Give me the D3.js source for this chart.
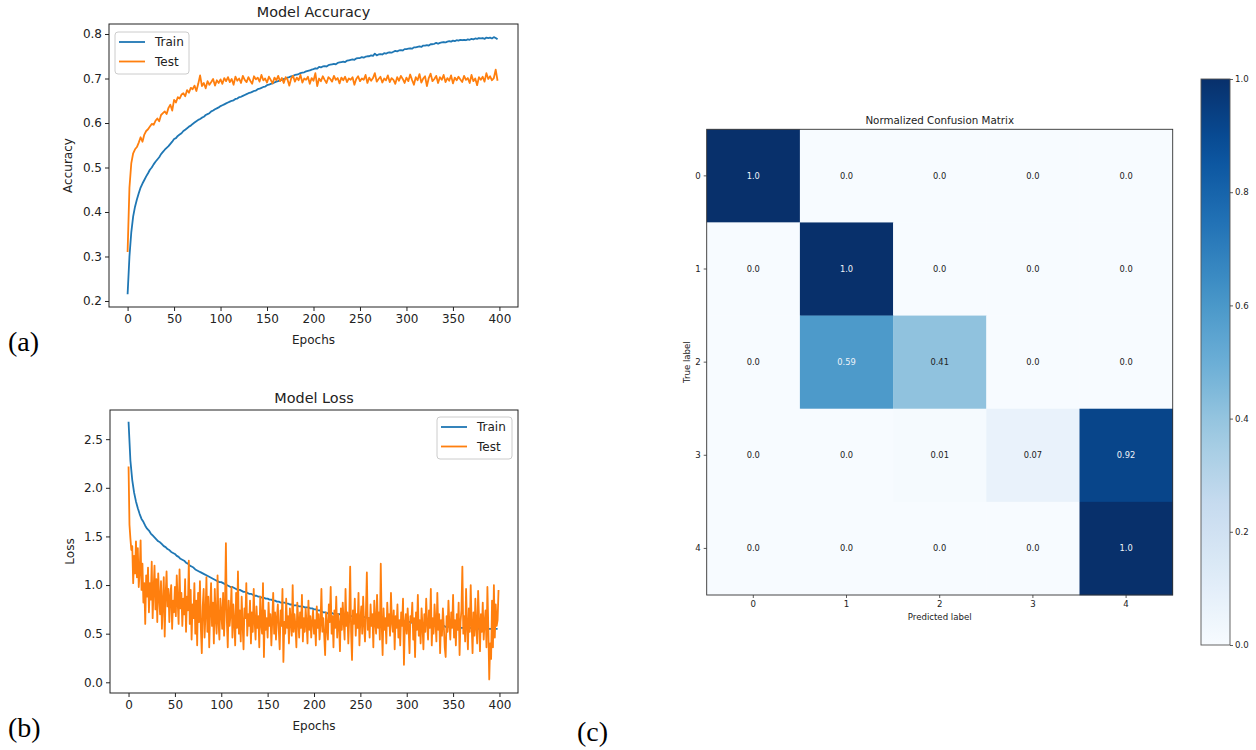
<!DOCTYPE html>
<html><head><meta charset="utf-8">
<script src="https://cdn.jsdelivr.net/npm/d3@7"></script>
<style>
html,body{margin:0;padding:0;background:#fff;}
svg text{font-family:"DejaVu Sans",sans-serif;fill:#222;}
</style></head>
<body><svg id="c" width="1256" height="750"></svg>
<script>
// ---------------- DATA ----------------
const seriesNames = ["Train", "Test"];
const xTicks = [0, 50, 100, 150, 200, 250, 300, 350, 400];
const accTicks = [0.2, 0.3, 0.4, 0.5, 0.6, 0.7, 0.8];
const lossTicks = [0.0, 0.5, 1.0, 1.5, 2.0, 2.5];
const trainAccStep = 2, testAccStep = 2, trainLossStep = 2, testLossStep = 1;

const trainAcc = [
0.215,0.300,0.355,0.390,0.412,0.428,0.442,0.455,0.464,0.472,
0.480,0.487,0.495,0.500,0.507,0.513,0.518,0.523,0.530,0.535,
0.540,0.544,0.548,0.553,0.558,0.564,0.566,0.571,0.574,0.577,
0.582,0.585,0.588,0.592,0.594,0.598,0.601,0.604,0.607,0.609,
0.612,0.614,0.618,0.620,0.622,0.626,0.628,0.631,0.633,0.635,0.638,
0.640,0.642,0.644,0.646,0.648,0.650,0.651,0.654,0.655,0.658,
0.659,0.661,0.663,0.665,0.667,0.668,0.670,0.672,0.673,0.676,
0.677,0.679,0.681,0.682,0.685,0.686,0.688,0.689,0.691,0.693,
0.694,0.696,0.697,0.699,0.700,0.702,0.703,0.705,0.706,0.708,
0.709,0.710,0.712,0.713,0.714,0.716,0.717,0.718,0.720,0.721,
0.723,0.722,0.726,0.725,0.727,0.728,0.727,0.730,0.731,0.732,
0.733,0.732,0.735,0.736,0.737,0.738,0.737,0.740,0.741,0.742,
0.743,0.742,0.745,0.746,0.746,0.748,0.747,0.749,0.750,0.750,
0.752,0.751,0.756,0.752,0.754,0.755,0.754,0.757,0.756,0.758,
0.759,0.758,0.760,0.762,0.761,0.763,0.764,0.763,0.766,0.766,
0.767,0.768,0.767,0.770,0.770,0.771,0.772,0.771,0.774,0.774,
0.775,0.774,0.777,0.777,0.778,0.780,0.778,0.780,0.781,0.782,
0.781,0.783,0.784,0.783,0.785,0.784,0.786,0.785,0.787,0.786,
0.787,0.786,0.788,0.787,0.789,0.788,0.790,0.789,0.791,0.790,
0.791,0.789,0.792,0.791,0.792,0.790,0.793,0.791,0.788];

const testAcc = [
0.310,0.455,0.510,0.532,0.541,0.546,0.556,0.568,0.558,0.574,
0.582,0.586,0.592,0.598,0.596,0.605,0.610,0.604,0.618,0.622,
0.626,0.620,0.634,0.641,0.628,0.652,0.646,0.658,0.655,0.664,
0.667,0.660,0.674,0.668,0.679,0.676,0.684,0.672,0.688,0.707,
0.683,0.690,0.678,0.694,0.686,0.692,0.699,0.684,0.696,0.690,0.698,
0.688,0.701,0.694,0.703,0.692,0.699,0.686,0.704,0.695,0.700,
0.690,0.706,0.697,0.692,0.703,0.695,0.688,0.705,0.698,0.702,
0.693,0.708,0.696,0.700,0.691,0.704,0.697,0.689,0.702,0.696,
0.706,0.694,0.701,0.690,0.703,0.698,0.684,0.700,0.706,0.693,
0.702,0.696,0.708,0.691,0.700,0.697,0.704,0.688,0.701,0.695,
0.712,0.683,0.700,0.694,0.705,0.697,0.690,0.703,0.699,0.693,
0.706,0.697,0.701,0.689,0.702,0.696,0.704,0.692,0.700,0.697,
0.703,0.686,0.699,0.705,0.694,0.700,0.697,0.708,0.690,0.702,
0.695,0.701,0.712,0.693,0.699,0.704,0.691,0.700,0.696,0.707,
0.692,0.701,0.697,0.688,0.703,0.695,0.706,0.699,0.690,0.702,
0.694,0.709,0.697,0.686,0.703,0.696,0.710,0.691,0.700,0.705,
0.683,0.701,0.711,0.694,0.699,0.706,0.690,0.703,0.697,0.708,
0.692,0.701,0.695,0.707,0.689,0.702,0.696,0.704,0.698,0.692,
0.706,0.697,0.701,0.690,0.708,0.694,0.700,0.685,0.703,0.697,
0.704,0.693,0.712,0.699,0.705,0.696,0.701,0.720,0.695];

const trainLoss = [
2.68,2.28,2.08,1.95,1.86,1.79,1.73,1.68,1.65,1.61,
1.58,1.56,1.53,1.51,1.49,1.47,1.45,1.44,1.42,1.40,
1.39,1.37,1.36,1.34,1.33,1.32,1.30,1.29,1.27,1.26,
1.25,1.23,1.22,1.20,1.19,1.18,1.16,1.15,1.14,1.13,
1.12,1.11,1.10,1.09,1.08,1.07,1.06,1.05,1.04,1.03,1.03,
1.02,1.01,1.00,0.99,0.98,0.98,0.97,0.96,0.95,0.95,
0.94,0.93,0.93,0.92,0.91,0.91,0.90,0.89,0.89,0.88,
0.88,0.87,0.87,0.86,0.86,0.85,0.85,0.84,0.84,0.83,
0.83,0.82,0.82,0.82,0.81,0.81,0.80,0.80,0.79,0.79,
0.79,0.78,0.78,0.78,0.77,0.77,0.77,0.76,0.76,0.75,
0.75,0.74,0.74,0.73,0.72,0.72,0.71,0.71,0.71,0.71,
0.70,0.70,0.70,0.70,0.69,0.69,0.69,0.69,0.68,0.68,
0.68,0.68,0.68,0.67,0.67,0.67,0.67,0.67,0.66,0.66,
0.66,0.66,0.66,0.66,0.65,0.65,0.65,0.65,0.65,0.64,
0.64,0.64,0.64,0.64,0.63,0.63,0.63,0.63,0.63,0.62,
0.62,0.62,0.61,0.61,0.61,0.60,0.60,0.60,0.60,0.59,
0.59,0.59,0.59,0.59,0.58,0.58,0.58,0.58,0.58,0.58,
0.57,0.57,0.57,0.57,0.57,0.57,0.57,0.56,0.56,0.56,
0.56,0.56,0.56,0.56,0.56,0.56,0.55,0.55,0.55,0.55,
0.55,0.55,0.55,0.55,0.55,0.55,0.55,0.55,0.55];

const testLoss = [
2.22,1.62,1.48,1.36,1.40,1.02,1.30,1.12,1.45,1.08,
1.38,0.98,1.14,1.46,0.95,1.22,0.82,1.02,0.60,1.10,
0.88,1.18,0.72,1.02,0.85,1.24,0.66,0.95,1.20,0.75,
1.06,0.62,1.12,0.88,0.70,1.04,0.55,0.82,1.08,0.47,
0.90,1.14,0.78,0.96,0.62,0.88,1.00,0.55,0.84,0.72,
0.98,0.68,1.10,0.82,0.60,1.16,0.76,0.92,0.58,0.86,
0.70,1.06,0.52,0.88,0.74,1.25,0.60,0.95,0.44,0.80,
0.66,1.02,0.50,0.84,0.38,0.92,0.62,1.04,0.55,0.30,
0.78,0.96,0.46,0.70,1.08,0.52,0.88,0.36,0.74,1.02,
0.58,0.82,0.40,0.96,0.66,0.50,1.10,0.62,0.44,0.86,
0.72,0.55,0.92,0.48,0.78,1.43,0.64,0.36,0.84,0.58,
0.70,0.98,0.46,0.80,0.62,0.38,0.92,0.56,1.14,0.50,
0.74,0.42,0.88,0.60,0.34,0.76,0.66,1.02,0.48,0.70,
0.58,0.84,0.40,0.72,0.52,0.96,0.62,0.44,0.78,0.56,
0.68,0.36,0.88,0.60,0.50,1.02,0.26,0.74,0.54,0.66,
0.46,0.82,0.58,0.70,0.38,0.64,0.92,0.50,0.72,0.44,
0.66,0.80,0.54,0.34,0.74,0.58,0.96,0.21,0.62,0.50,
0.86,0.56,0.68,0.40,0.76,0.62,0.48,1.00,0.52,0.70,
0.58,0.36,0.82,0.64,0.46,0.72,0.56,0.90,0.42,0.66,
0.52,0.76,0.60,0.40,0.84,0.54,0.68,0.46,0.62,0.74,
0.50,0.64,0.38,0.78,0.56,0.70,0.44,0.60,0.96,0.52,
0.66,0.48,0.28,0.72,0.58,0.44,0.80,0.62,0.98,0.50,
0.68,0.36,0.74,0.56,0.88,0.46,0.70,0.60,0.32,0.76,
0.54,0.82,0.62,0.44,0.96,0.58,0.72,0.40,0.66,1.19,
0.52,0.23,0.74,0.60,0.86,0.48,0.70,0.56,0.92,0.38,
0.64,0.78,0.50,0.88,0.60,0.42,0.72,1.13,0.54,0.66,
0.46,0.80,0.58,0.70,0.36,0.84,0.62,0.50,0.90,0.56,
0.72,0.44,1.22,0.60,0.28,0.76,0.54,0.66,0.40,0.82,
0.58,0.70,0.48,0.92,0.62,0.52,0.74,0.34,0.68,0.56,
0.80,0.46,0.64,0.38,0.72,0.58,0.86,0.18,0.60,0.70,
0.50,0.76,0.56,0.30,0.68,0.62,0.82,0.44,0.66,0.26,
0.72,0.54,0.90,0.48,0.64,0.40,0.76,0.58,0.34,0.70,
0.52,0.86,0.60,0.44,0.74,0.56,0.96,0.38,0.66,0.50,
0.80,0.62,0.42,0.92,0.54,0.70,0.30,0.64,0.48,0.76,
0.58,0.36,0.26,0.68,0.52,0.84,0.60,0.44,0.72,0.56,
0.90,0.46,0.64,0.38,0.70,0.54,0.82,0.28,0.62,0.74,
1.19,0.50,0.68,0.42,0.96,0.58,0.34,0.76,0.52,1.00,
0.60,0.30,0.72,0.48,0.86,0.56,0.40,0.94,0.64,0.32,
0.70,0.52,0.82,0.44,0.62,0.74,0.36,0.98,0.56,0.03,
0.40,0.24,0.84,0.36,1.00,0.46,0.80,0.58,0.64,0.95];

const cmLabels = ["0", "1", "2", "3", "4"];
const cmValues = [
  [1.0, 0.0, 0.0, 0.0, 0.0],
  [0.0, 1.0, 0.0, 0.0, 0.0],
  [0.0, 0.59, 0.41, 0.0, 0.0],
  [0.0, 0.0, 0.01, 0.07, 0.92],
  [0.0, 0.0, 0.0, 0.0, 1.0]];
const cmText = [
  ["1.0","0.0","0.0","0.0","0.0"],
  ["0.0","1.0","0.0","0.0","0.0"],
  ["0.0","0.59","0.41","0.0","0.0"],
  ["0.0","0.0","0.01","0.07","0.92"],
  ["0.0","0.0","0.0","0.0","1.0"]];
const cbTicks = [0.0, 0.2, 0.4, 0.6, 0.8, 1.0];
const bluesStops = ["#f7fbff","#deebf7","#c6dbef","#9ecae1","#6baed6","#4292c6","#2171b5","#08519c","#08306b"];

// ---------------- DRAW ----------------
const svg = d3.select("#c");
const C_TRAIN = "#1f77b4", C_TEST = "#ff7f0e";

function linePanel(o) {
  const x = d3.scaleLinear().domain([-20, 420]).range([o.x0, o.x1]);
  const y = d3.scaleLinear().domain(o.yDom).range([o.y1, o.y0]);
  const g = svg.append("g");
  const clipId = "clip" + o.id;
  svg.append("clipPath").attr("id", clipId).append("rect")
    .attr("x", o.x0).attr("y", o.y0).attr("width", o.x1 - o.x0).attr("height", o.y1 - o.y0);
  const lg = g.append("g").attr("clip-path", `url(#${clipId})`);
  o.series.forEach(s => {
    const ln = d3.line().x((d, i) => x(i * s.step)).y(d => y(d));
    lg.append("path").datum(s.data).attr("d", ln).attr("fill", "none")
      .attr("stroke", s.color).attr("stroke-width", 1.8).attr("stroke-linejoin", "round");
  });
  // axes
  const ax = g.append("g").attr("transform", `translate(0,${o.y1})`)
    .call(d3.axisBottom(x).tickValues(xTicks).tickSize(4).tickPadding(3).tickFormat(d3.format("d")));
  const ay = g.append("g").attr("transform", `translate(${o.x0},0)`)
    .call(d3.axisLeft(y).tickValues(o.yTicks).tickSize(4).tickPadding(3).tickFormat(d3.format(".1f")));
  [ax, ay].forEach(a => {
    a.select(".domain").remove();
    a.selectAll("line").attr("stroke", "#222").attr("stroke-width", 1);
    a.selectAll("text").style("font-size", "12px").attr("fill", "#222");
  });
  g.append("rect").attr("x", o.x0).attr("y", o.y0).attr("width", o.x1 - o.x0).attr("height", o.y1 - o.y0)
    .attr("fill", "none").attr("stroke", "#222").attr("stroke-width", 1);
  g.append("text").attr("x", (o.x0 + o.x1) / 2).attr("y", o.y0 - 7).attr("text-anchor", "middle")
    .style("font-size", "14.4px").text(o.title);
  g.append("text").attr("x", (o.x0 + o.x1) / 2).attr("y", o.y1 + 37).attr("text-anchor", "middle")
    .style("font-size", "12px").text("Epochs");
  g.append("text").attr("transform", `translate(${o.ylabX},${(o.y0 + o.y1) / 2}) rotate(-90)`)
    .attr("text-anchor", "middle").style("font-size", "12px").text(o.ylabel);
  // legend
  const L = o.legend;
  g.append("rect").attr("x", L.x).attr("y", L.y).attr("width", L.w).attr("height", 42).attr("rx", 3)
    .attr("fill", "#fff").attr("fill-opacity", 0.8).attr("stroke", "#ccc").attr("stroke-width", 1);
  o.series.forEach((s, i) => {
    const yy = L.y + 10 + i * 19.5;
    g.append("line").attr("x1", L.x + 4).attr("x2", L.x + 30).attr("y1", yy).attr("y2", yy)
      .attr("stroke", s.color).attr("stroke-width", 1.8);
    g.append("text").attr("x", L.x + 40).attr("y", yy).attr("dy", "0.35em")
      .style("font-size", "12px").text(s.name);
  });
}

linePanel({
  id: "a", x0: 109, x1: 518, y0: 24, y1: 307, yDom: [0.1865, 0.8225], yTicks: accTicks,
  title: "Model Accuracy", ylabel: "Accuracy", ylabX: 72,
  legend: { x: 115, y: 32, w: 74 },
  series: [
    { name: seriesNames[0], data: trainAcc, step: trainAccStep, color: C_TRAIN },
    { name: seriesNames[1], data: testAcc, step: testAccStep, color: C_TEST }]
});
linePanel({
  id: "b", x0: 110, x1: 518, y0: 410, y1: 693, yDom: [-0.11, 2.8], yTicks: lossTicks,
  title: "Model Loss", ylabel: "Loss", ylabX: 74,
  legend: { x: 437, y: 417, w: 75 },
  series: [
    { name: seriesNames[0], data: trainLoss, step: trainLossStep, color: C_TRAIN },
    { name: seriesNames[1], data: testLoss, step: testLossStep, color: C_TEST }]
});

// ---------------- Confusion matrix ----------------
const blues = d3.scaleLinear().domain(d3.range(9).map(i => i / 8)).range(bluesStops)
  .interpolate(d3.interpolateRgb).clamp(true);
const mx0 = 706.7, mx1 = 1172.7, my0 = 129.3, my1 = 595;
const bx = d3.scaleBand().domain(cmLabels).range([mx0, mx1]);
const by = d3.scaleBand().domain(cmLabels).range([my0, my1]);
const cm = svg.append("g");
cmValues.forEach((row, r) => row.forEach((v, c) => {
  cm.append("rect").attr("x", bx(cmLabels[c])).attr("y", by(cmLabels[r]))
    .attr("width", bx.bandwidth() + 0.3).attr("height", by.bandwidth() + 0.3).attr("fill", blues(v));
}));
cmValues.forEach((row, r) => row.forEach((v, c) => {
  cm.append("text").attr("x", bx(cmLabels[c]) + bx.bandwidth() / 2).attr("y", by(cmLabels[r]) + by.bandwidth() / 2)
    .attr("dy", "0.35em").attr("text-anchor", "middle").style("font-size", "8.3px")
    .style("fill", v > 0.5 ? "#eef3f8" : "#222").text(cmText[r][c]);
}));
const cax = cm.append("g").attr("transform", `translate(0,${my1})`)
  .call(d3.axisBottom(bx).tickSize(3).tickPadding(3));
const cay = cm.append("g").attr("transform", `translate(${mx0},0)`)
  .call(d3.axisLeft(by).tickSize(3).tickPadding(3));
[cax, cay].forEach(a => {
  a.select(".domain").remove();
  a.selectAll("line").attr("stroke", "#333").attr("stroke-width", 0.8);
  a.selectAll("text").style("font-size", "8.6px").attr("fill", "#222");
});
cm.append("rect").attr("x", mx0).attr("y", my0).attr("width", mx1 - mx0).attr("height", my1 - my0)
  .attr("fill", "none").attr("stroke", "#333").attr("stroke-width", 0.9);
cm.append("text").attr("x", (mx0 + mx1) / 2).attr("y", my0 - 5).attr("text-anchor", "middle")
  .style("font-size", "10.3px").text("Normalized Confusion Matrix");
cm.append("text").attr("x", (mx0 + mx1) / 2).attr("y", 620).attr("text-anchor", "middle")
  .style("font-size", "8.6px").text("Predicted label");
cm.append("text").attr("transform", `translate(690,${(my0 + my1) / 2}) rotate(-90)`)
  .attr("text-anchor", "middle").style("font-size", "8.6px").text("True label");

// colorbar
const cbx0 = 1201, cbx1 = 1230, cby0 = 79, cby1 = 645;
const defs = svg.append("defs");
const grad = defs.append("linearGradient").attr("id", "cbgrad").attr("x1", 0).attr("y1", 1).attr("x2", 0).attr("y2", 0);
d3.range(0, 1.0001, 0.05).forEach(t => grad.append("stop").attr("offset", t).attr("stop-color", blues(t)));
svg.append("rect").attr("x", cbx0).attr("y", cby0).attr("width", cbx1 - cbx0).attr("height", cby1 - cby0)
  .attr("fill", "url(#cbgrad)").attr("stroke", "#555").attr("stroke-width", 0.9);
const cby = d3.scaleLinear().domain([0, 1]).range([cby1, cby0]);
const cbax = svg.append("g").attr("transform", `translate(${cbx1},0)`)
  .call(d3.axisRight(cby).tickValues(cbTicks).tickSize(3).tickPadding(2).tickFormat(d3.format(".1f")));
cbax.select(".domain").remove();
cbax.selectAll("line").attr("stroke", "#333").attr("stroke-width", 0.8);
cbax.selectAll("text").style("font-size", "8.6px").attr("fill", "#222");

// panel labels
const serif = "'Liberation Serif', 'DejaVu Serif', serif";
[["(a)", 8, 351], ["(b)", 8, 737], ["(c)", 577, 741]].forEach(([t, x, y]) => {
  svg.append("text").attr("x", x).attr("y", y).style("font-family", serif).style("font-size", "28px")
    .style("fill", "#000").text(t);
});
</script></body></html>
